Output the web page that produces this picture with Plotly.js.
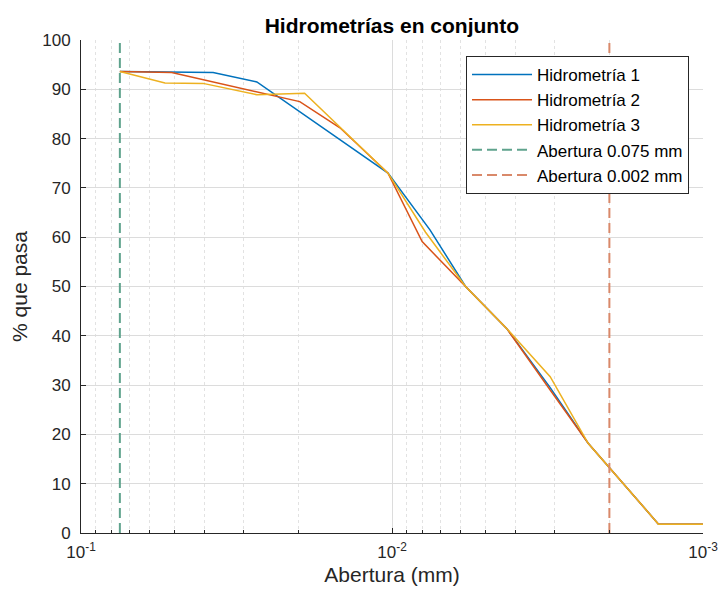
<!DOCTYPE html>
<html>
<head>
<meta charset="utf-8">
<script src="https://cdn.plot.ly/plotly-3.0.1.min.js"></script>
<style>html,body{margin:0;padding:0;background:#fff;}#chart{width:722px;height:599px;}</style>
</head>
<body>
<div id="chart"></div>
<script>
// Data
const seriesNames = ["Hidrometría 1", "Hidrometría 2", "Hidrometría 3"];
const x1 = [0.075, 0.0376, 0.0272, 0.0103, 0.00755, 0.0058, 0.00428, 0.0031, 0.00234, 0.00139, 0.001];
const y1 = [93.6, 93.4, 91.5, 73.0, 61.5, 50.0, 41.5, 29.5, 18.2, 1.8, 1.8];
const x2 = [0.075, 0.0511, 0.0198, 0.0147, 0.0103, 0.0080, 0.0058, 0.00428, 0.0031, 0.00234, 0.00139, 0.001];
const y2 = [93.6, 93.4, 87.5, 82.2, 73.0, 59.1, 50.0, 41.5, 29.0, 18.2, 1.8, 1.8];
const x3 = [0.075, 0.0537, 0.0405, 0.0272, 0.0191, 0.0144, 0.0103, 0.0078, 0.0058, 0.00428, 0.0031, 0.00234, 0.00139, 0.001];
const y3 = [93.6, 91.3, 91.2, 88.9, 89.2, 81.7, 73.0, 61.0, 50.0, 41.5, 31.7, 18.2, 1.8, 1.8];
const aberturas = [0.075, 0.002];
const aberturaNames = ["Abertura 0.075 mm", "Abertura 0.002 mm"];
const yRangeLine = [0, 100];
const xTickVals = [0.1, 0.01, 0.001];
const xTickText = ["10<sup>-1</sup>", "10<sup>-2</sup>", "10<sup>-3</sup>"];
const xMinorVals = [0.09,0.08,0.07,0.06,0.05,0.04,0.03,0.02,0.009,0.008,0.007,0.006,0.005,0.004,0.003,0.002];

const colors = ["#0072bd", "#d95319", "#edb120"];
const dashColors = ["#5fa38d", "#d9896a"];

const traces = [
  {x: x1, y: y1, name: seriesNames[0], mode: "lines", line: {color: colors[0], width: 1.5}},
  {x: x2, y: y2, name: seriesNames[1], mode: "lines", line: {color: colors[1], width: 1.5}},
  {x: x3, y: y3, name: seriesNames[2], mode: "lines", line: {color: colors[2], width: 1.5}},
];
aberturas.forEach((a, i) => {
  traces.push({x: [a, a], y: yRangeLine, name: aberturaNames[i], mode: "lines",
    line: {color: dashColors[i], width: 2, dash: "10px,5px"}});
});

const font = "Liberation Sans, Arial, Helvetica, sans-serif";
const layout = {
  width: 722, height: 599,
  margin: {l: 81, r: 19, t: 40, b: 66},
  paper_bgcolor: "#ffffff", plot_bgcolor: "#ffffff",
  font: {family: font, size: 17, color: "#262626"},
  title: {text: "<b>Hidrometrías en conjunto</b>", font: {family: font, size: 21, color: "#000"},
    x: 0.5427, xanchor: "center", y: 0.957, yanchor: "middle"},
  showlegend: true,
  legend: {x: 0.9775, xanchor: "right", y: 0.9675, yanchor: "top",
    bgcolor: "#ffffff", bordercolor: "#262626", borderwidth: 1, itemwidth: 60,
    font: {family: font, size: 17, color: "#000"}, tracegroupgap: 0},
  xaxis: {
    type: "log", range: [-1, -3],
    title: {text: "Abertura (mm)", font: {family: font, size: 21, color: "#262626"}, standoff: 5},
    tickmode: "array", tickvals: xTickVals, ticktext: xTickText,
    ticks: "inside", ticklen: 5, tickcolor: "#262626", ticklabelstandoff: 4,
    showgrid: true, gridcolor: "#dcdcdc", gridwidth: 1,
    showline: true, linecolor: "#262626", linewidth: 1, mirror: false, zeroline: false,
    minor: {tickmode: "array", tickvals: xMinorVals, ticks: "inside", ticklen: 3, tickcolor: "#262626",
      showgrid: true, gridcolor: "#e2e2e2", griddash: "dot", gridwidth: 1}
  },
  yaxis: {
    range: [0, 100], dtick: 10, tick0: 0,
    title: {text: "% que pasa", font: {family: font, size: 21, color: "#262626"}, standoff: 8},
    ticks: "inside", ticklen: 5, tickcolor: "#262626", ticklabelstandoff: 6,
    showgrid: true, gridcolor: "#dcdcdc", gridwidth: 1,
    showline: true, linecolor: "#262626", linewidth: 1, mirror: false, zeroline: false
  }
};
Plotly.newPlot("chart", traces, layout, {staticPlot: true, displayModeBar: false});
</script>
</body>
</html>
